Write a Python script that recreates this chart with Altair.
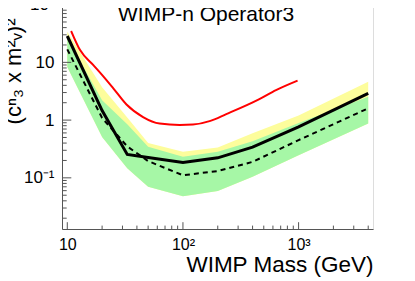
import altair as alt
import pandas as pd

# ---- data ----
mass = [10, 20, 33, 50, 100, 200, 400, 1000, 4000]
observed = [28.6, 1.46, 0.254, 0.225, 0.185, 0.222, 0.34, 0.766, 2.90]
expected = [16.8, 1.09, 0.35, 0.195, 0.111, 0.131, 0.189, 0.45, 1.60]
one_sigma_up = [26.0, 2.2, 0.85, 0.344, 0.231, 0.282, 0.43, 0.89, 2.54]
one_sigma_lo = [8.3, 0.51, 0.146, 0.070, 0.048, 0.059, 0.104, 0.247, 0.877]
two_sigma_up = [34.0, 3.7, 1.11, 0.40, 0.282, 0.336, 0.59, 1.2, 4.6]
two_sigma_lo = [8.3, 0.51, 0.146, 0.070, 0.048, 0.059, 0.104, 0.247, 0.877]

red_mass = [10.8, 12.9, 16.8, 20.4, 24.9, 32.5, 45.2, 62.9, 93.7, 122, 170, 237, 458, 638, 980]
red_limit = [34.9, 16.3, 8.98, 5.79, 3.59, 1.86, 1.13, 0.87, 0.82, 0.836, 0.96, 1.27, 2.31, 3.31, 4.84]

x_major = [10, 100, 1000]
x_minor = [20, 30, 40, 50, 60, 70, 80, 90, 200, 300, 400, 500, 600, 700, 800, 900, 2000, 3000, 4000]
y_major = [0.1, 1, 10, 100]
y_minor = [0.02, 0.03, 0.04, 0.05, 0.06, 0.07, 0.08, 0.09,
           0.2, 0.3, 0.4, 0.5, 0.6, 0.7, 0.8, 0.9,
           2, 3, 4, 5, 6, 7, 8, 9, 20, 30, 40, 50, 60, 70, 80, 90]

W, H = 311, 227
FONT = "Liberation Sans"
AX = "#555555"

band = pd.DataFrame({"m": mass, "obs": observed, "exp": expected,
                     "g_up": one_sigma_up, "g_lo": one_sigma_lo,
                     "y_up": two_sigma_up, "y_lo": two_sigma_lo})
red = pd.DataFrame({"m": red_mass, "v": red_limit})

xs = alt.Scale(type="log", domain=[9, 4400], nice=False)
ys = alt.Scale(type="log", domain=[0.013, 111], nice=False)

xaxis = alt.Axis(values=x_major,
                 labelExpr="datum.value == 10 ? '10' : datum.value == 100 ? '10²' : '10³'",
                 ticks=False, grid=False, domainColor=AX, labelFont=FONT, labelFontSize=16,
                 labelPadding=7, labelColor="black", title="WIMP Mass (GeV)", titleAnchor="end",
                 titleFont=FONT, titleFontSize=22.5, titleFontWeight="normal", titlePadding=1,
                 titleColor="black")
yaxis = alt.Axis(values=y_major,
                 labelExpr="datum.value == 100 ? '10²' : datum.value == 10 ? '10' : datum.value == 1 ? '1' : '10⁻¹'",
                 ticks=False, grid=False, domainColor=AX, labelFont=FONT, labelFontSize=17,
                 labelPadding=8, labelColor="black", title="(cⁿ₃ x m²ᵥ)²", titleFont=FONT,
                 titleFontSize=22, titleFontWeight="normal", titleColor="black",
                 titleX=-37, titleY=16, titleAlign="right", titleBaseline="bottom", titleAngle=270)

X = lambda f: alt.X(f, type="quantitative", scale=xs, axis=xaxis)
Y = lambda f: alt.Y(f, type="quantitative", scale=ys, axis=yaxis)

yellow = alt.Chart(band).mark_area(color="#fdfd9c", opacity=1).encode(
    x=X("m"), y=Y("y_up"), y2="y_lo")
green = alt.Chart(band).mark_area(color="#a6f7a6", opacity=1).encode(
    x=X("m"), y=Y("g_up"), y2="g_lo")
red_line = alt.Chart(red).mark_line(color="#ff0000", strokeWidth=2, interpolate="monotone").encode(
    x=X("m"), y=Y("v"))
exp_line = alt.Chart(band).mark_line(color="black", strokeWidth=2, strokeDash=[5, 4]).encode(
    x=X("m"), y=Y("exp"))
obs_line = alt.Chart(band).mark_line(color="black", strokeWidth=3).encode(
    x=X("m"), y=Y("obs"))

def yticks(vals, length):
    return alt.Chart(pd.DataFrame({"t": vals})).mark_rule(color=AX, strokeWidth=1).encode(
        y=Y("t"), x=alt.value(0), x2=alt.value(length))

def xticks(vals, length):
    return alt.Chart(pd.DataFrame({"t": vals})).mark_rule(color=AX, strokeWidth=1).encode(
        x=X("t"), y=alt.value(H), y2=alt.value(H - length))

chart = alt.layer(
    yellow, green,
    yticks(y_major, 9.3), yticks(y_minor, 4.7),
    xticks(x_major, 6.8), xticks(x_minor, 3.4),
    red_line, exp_line, obs_line,
).properties(
    width=W, height=H,
    title=alt.TitleParams("WIMP-n Operator3", anchor="start", frame="group", dx=56, dy=46,
                          offset=0, baseline="alphabetic", font=FONT, fontSize=21,
                          fontWeight="normal", color="black"),
    autosize=alt.AutoSizeParams(type="none"),
    padding={"left": 54, "top": -6, "right": 30, "bottom": 50},
).configure_view(stroke=AX, strokeWidth=1).configure(background="white")

chart.save("out.html", embed_options={"renderer": "svg", "actions": False})
